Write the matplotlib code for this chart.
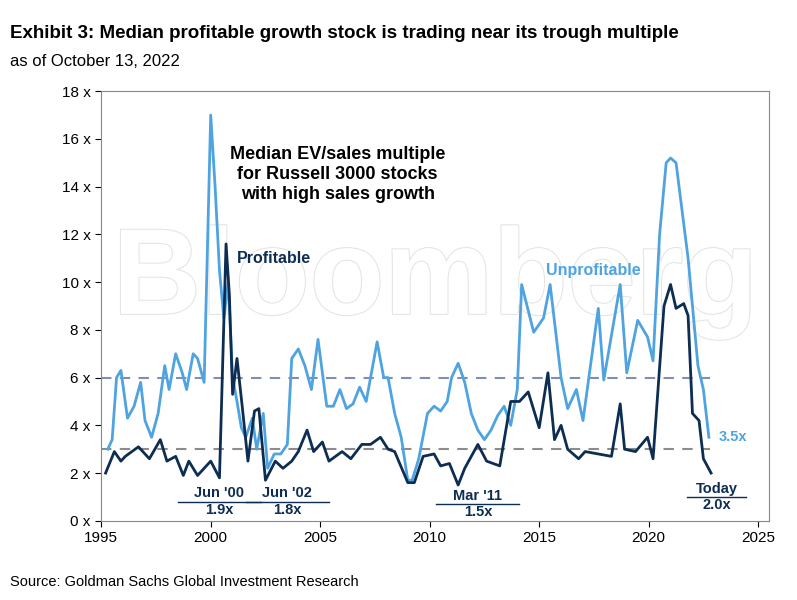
import matplotlib.pyplot as plt
import matplotlib.patheffects as pe

plt.rcParams['font.family'] = ['Liberation Sans', 'DejaVu Sans']

unp_years = [1995.3,1995.5,1995.7,1995.9,1996.2,1996.5,1996.8,1997.0,1997.3,1997.6,1997.9,1998.1,1998.4,1998.7,1998.9,1999.2,1999.4,1999.7,2000.0,2000.2,2000.4,2000.6,2000.8,2001.0,2001.2,2001.4,2001.6,2001.9,2002.1,2002.4,2002.6,2002.9,2003.2,2003.5,2003.7,2004.0,2004.3,2004.6,2004.9,2005.3,2005.6,2005.9,2006.2,2006.5,2006.8,2007.1,2007.3,2007.6,2007.9,2008.1,2008.4,2008.7,2009.0,2009.2,2009.5,2009.9,2010.2,2010.5,2010.8,2011.0,2011.3,2011.6,2011.9,2012.2,2012.5,2012.8,2013.1,2013.4,2013.7,2013.9,2014.0,2014.2,2014.75,2015.2,2015.5,2016.0,2016.3,2016.7,2017.0,2017.7,2017.95,2018.7,2019.0,2019.5,2019.95,2020.2,2020.5,2020.8,2021.0,2021.25,2021.8,2022.25,2022.5,2022.75]
unp_vals = [3.0,3.4,6.0,6.3,4.3,4.8,5.8,4.2,3.5,4.5,6.5,5.5,7.0,6.2,5.5,7.0,6.8,5.8,17.0,14.0,10.5,8.5,10.0,6.0,5.0,3.9,3.5,4.3,3.0,4.5,2.2,2.8,2.8,3.2,6.8,7.2,6.5,5.5,7.6,4.8,4.8,5.5,4.7,4.9,5.6,5.0,6.0,7.5,6.0,6.0,4.5,3.5,1.7,1.7,2.6,4.5,4.8,4.6,5.0,6.0,6.6,5.8,4.5,3.8,3.4,3.8,4.4,4.8,4.0,5.0,5.5,9.9,7.9,8.5,9.9,6.0,4.7,5.5,4.2,8.9,5.9,9.9,6.2,8.4,7.7,6.7,12.0,15.0,15.2,15.0,11.0,6.5,5.5,3.5]

pro_years = [1995.2,1995.6,1995.9,1996.1,1996.7,1997.2,1997.7,1998.0,1998.4,1998.75,1999.0,1999.4,2000.0,2000.4,2000.7,2000.85,2001.0,2001.2,2001.45,2001.7,2002.0,2002.2,2002.5,2002.95,2003.3,2003.7,2004.0,2004.4,2004.7,2005.1,2005.4,2006.0,2006.4,2006.9,2007.3,2007.75,2008.1,2008.4,2009.0,2009.3,2009.7,2010.2,2010.5,2010.9,2011.3,2011.6,2012.2,2012.6,2013.2,2013.7,2014.1,2014.5,2015.0,2015.4,2015.7,2016.0,2016.3,2016.8,2017.1,2017.7,2018.3,2018.7,2018.9,2019.4,2019.95,2020.2,2020.7,2021.0,2021.25,2021.6,2021.8,2022.0,2022.3,2022.5,2022.85]
pro_vals = [2.0,2.9,2.5,2.7,3.1,2.6,3.4,2.5,2.7,1.9,2.5,1.9,2.5,1.8,11.6,9.5,5.3,6.8,4.7,2.5,4.6,4.7,1.7,2.5,2.2,2.5,2.9,3.8,2.9,3.3,2.5,2.9,2.6,3.2,3.2,3.5,3.0,2.9,1.6,1.6,2.7,2.8,2.3,2.4,1.5,2.2,3.2,2.5,2.3,5.0,5.0,5.4,3.9,6.2,3.4,4.0,3.0,2.6,2.9,2.8,2.7,4.9,3.0,2.9,3.5,2.6,9.0,9.9,8.9,9.1,8.6,4.5,4.2,2.6,2.0]

light = '#4fa3e0'
dark = '#0d2d52'

fig = plt.figure(figsize=(7.97, 6.0), dpi=100)
ax = fig.add_axes([0.127, 0.132, 0.838, 0.716])
ax.text(0.5, 0.555, 'Bloomberg', transform=ax.transAxes, fontsize=88, fontweight='bold',
        color='white', ha='center', va='center', zorder=0,
        path_effects=[pe.withStroke(linewidth=1.5, foreground='#e4e4e4')])
ax.hlines(6.0, 1995, 2022.8, colors='#7f8fb0', linestyles=(0, (5, 4)), lw=1.5, zorder=1)
ax.hlines(3.0, 1995, 2022.8, colors='#8c8c8c', linestyles=(0, (5, 4)), lw=1.5, zorder=1)
ax.plot(unp_years, unp_vals, color=light, lw=2, zorder=2)
ax.plot(pro_years, pro_vals, color=dark, lw=2, zorder=3)

ax.set_xlim(1995, 2025.5)
ax.set_ylim(0, 18)
ax.set_xticks(range(1995, 2030, 5))
ax.set_yticks(range(0, 20, 2))
ax.set_yticklabels([f'{v} x' for v in range(0, 20, 2)])
ax.tick_params(labelsize=11, direction='out', length=4)
for s in ax.spines.values():
    s.set_color('#888888')

ax.text(2005.8, 14.5, 'Median EV/sales multiple\nfor Russell 3000 stocks\nwith high sales growth',
        ha='center', va='center', fontsize=13, fontweight='bold', linespacing=1.25)
ax.text(2001.2, 11.0, 'Profitable', color=dark, fontsize=11.5, fontweight='bold', va='center')
ax.text(2015.3, 10.5, 'Unprofitable', color=light, fontsize=11.5, fontweight='bold', va='center')
ax.text(2023.2, 3.5, '3.5x', color=light, fontsize=10.5, fontweight='bold', va='center')
for x, y, t, v in [(2000.4, 1.15, "Jun '00", '1.9x'), (2003.5, 1.15, "Jun '02", '1.8x'),
                   (2012.2, 1.05, "Mar '11", '1.5x'), (2023.1, 1.35, 'Today', '2.0x')]:
    ax.text(x, y, t, color=dark, fontsize=10.5, fontweight='bold', ha='center', va='center')
    ax.text(x, y - 0.7, v, color=dark, fontsize=10.5, fontweight='bold', ha='center', va='center')
    w = 0.27 * len(t)
    ax.plot([x - w, x + w], [y - 0.35, y - 0.35], color=dark, lw=1)

fig.text(0.012, 0.945, 'Exhibit 3: Median profitable growth stock is trading near its trough multiple',
         fontsize=13.5, fontweight='bold', va='center')
fig.text(0.012, 0.897, 'as of October 13, 2022', fontsize=12, va='center')
fig.text(0.012, 0.03, 'Source: Goldman Sachs Global Investment Research', fontsize=10.5, va='center')
fig.savefig('out.png', dpi=100)
